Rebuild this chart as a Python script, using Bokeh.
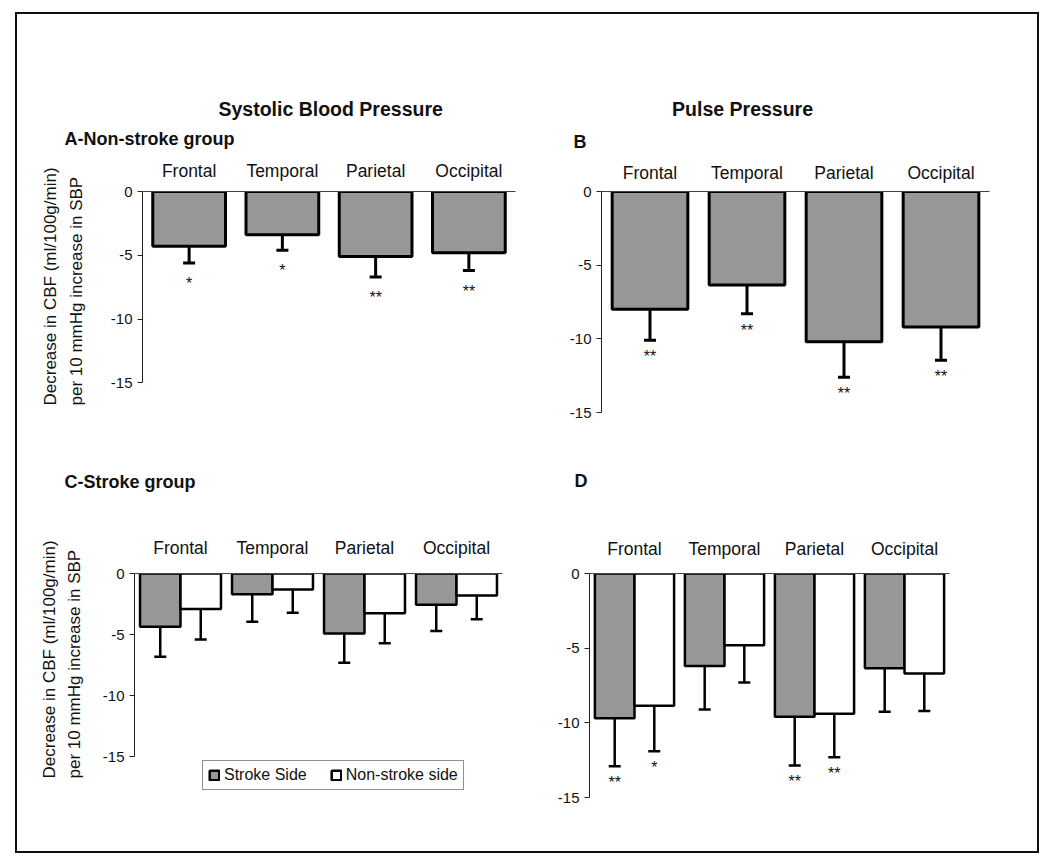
from bokeh.plotting import figure
from bokeh.models import (FactorRange, Range1d, FixedTicker, Whisker, TeeHead,
                          ColumnDataSource, Title, Legend, LegendItem)
from bokeh.transform import dodge
from bokeh.layouts import row, column
from bokeh.embed import file_html
from bokeh.resources import INLINE
from bokeh.core.properties import value

FONT = "Liberation Sans"
GRAY = "#979797"

# ---------------- data ----------------
regions = ["Frontal", "Temporal", "Parietal", "Occipital"]
y_ticks = [-15, -10, -5, 0]
y_tick_labels = ["-15", "-10", "-5", "0"]

# A: non-stroke group, systolic blood pressure
a_values = [-4.3, -3.4, -5.1, -4.8]
a_err_low = [-5.6, -4.6, -6.7, -6.2]
a_stars = ["*", "*", "**", "**"]

# B: non-stroke group, pulse pressure
b_values = [-8.0, -6.35, -10.2, -9.2]
b_err_low = [-10.1, -8.3, -12.6, -11.45]
b_stars = ["**", "**", "**", "**"]

# C: stroke group, systolic blood pressure
c_stroke = [-4.35, -1.7, -4.9, -2.55]
c_stroke_low = [-6.8, -3.95, -7.3, -4.7]
c_non = [-2.9, -1.3, -3.25, -1.8]
c_non_low = [-5.4, -3.2, -5.7, -3.75]
c_stars = ["", "", "", ""]

# D: stroke group, pulse pressure
d_stroke = [-9.7, -6.2, -9.6, -6.35]
d_stroke_low = [-12.9, -9.1, -12.85, -9.25]
d_stroke_stars = ["**", "", "**", ""]
d_non = [-8.85, -4.8, -9.4, -6.7]
d_non_low = [-11.9, -7.3, -12.3, -9.2]
d_non_stars = ["*", "", "**", ""]

legend_labels = ["Stroke Side", "Non-stroke side"]
ylabel_lines = ["Decrease in CBF (ml/100g/min)", "per 10 mmHg increase in SBP"]


def make_panel(width, height, left, right, top, bottom, x_standoff, y_min):
    p = figure(width=width, height=height,
               x_range=FactorRange(*regions, range_padding=0),
               y_range=Range1d(y_min, 0),
               x_axis_location="above",
               output_backend="svg", toolbar_location=None,
               min_border_left=left, min_border_right=right,
               min_border_top=top, min_border_bottom=bottom)
    p.outline_line_color = None
    p.background_fill_color = "white"
    p.border_fill_color = "white"
    p.xgrid.visible = False
    p.ygrid.visible = False
    xa = p.xaxis[0]
    xa.axis_line_color = "#444444"
    xa.axis_line_width = 1
    xa.major_tick_line_color = None
    xa.major_tick_out = 0
    xa.major_tick_in = 0
    xa.major_label_standoff = x_standoff
    xa.major_label_text_font = FONT
    xa.major_label_text_font_size = "17.5px"
    xa.major_label_text_color = "#111111"
    ya = p.yaxis[0]
    ya.ticker = FixedTicker(ticks=y_ticks)
    ya.bounds = (min(y_ticks), max(y_ticks))
    ya.major_label_overrides = {t: s for t, s in zip(y_ticks, y_tick_labels)}
    ya.axis_line_color = "#222222"
    ya.axis_line_width = 1
    ya.major_tick_line_color = "#222222"
    ya.major_tick_out = 5
    ya.major_tick_in = 0
    ya.minor_tick_line_color = None
    ya.major_label_standoff = 5
    ya.major_label_text_font = FONT
    ya.major_label_text_font_size = "15px"
    ya.major_label_text_color = "#111111"
    return p


def add_title(p, txt, side, size, bold, align, offset, standoff,
              vertical_align="bottom", line_height=1.0):
    p.add_layout(Title(text=txt, align=align, offset=offset, standoff=standoff,
                       vertical_align=vertical_align,
                       text_font=FONT, text_font_size=size,
                       text_font_style="bold" if bold else "normal",
                       text_line_height=line_height,
                       text_color="#111111"), side)


def add_ylabel(p, offset, standoff):
    add_title(p, "\n".join(ylabel_lines), "left", "17px", False, "left", offset,
              standoff, vertical_align="middle", line_height=1.35)


def add_stars(p, xs, lows, stars, star_off):
    keep = [i for i, s in enumerate(stars) if s]
    if not keep:
        return
    src = ColumnDataSource(dict(region=[regions[i] for i in keep],
                                low=[lows[i] for i in keep],
                                star=[stars[i] for i in keep]))
    x = "region" if xs == 0 else dodge("region", xs, range=p.x_range)
    p.text(x=x, y="low", text="star", source=src, text_font=value(FONT),
           text_font_size="16px", text_align="center", text_baseline="top",
           y_offset=star_off, text_color="#111111")


def single_bars(p, vals, lows, stars, lw, star_off):
    src = ColumnDataSource(dict(region=regions, val=vals, low=lows))
    p.add_layout(Whisker(source=src, base="region", upper="val", lower="low",
                         dimension="height", line_color="black", line_width=lw,
                         upper_head=None,
                         lower_head=TeeHead(size=12, line_width=lw, line_color="black")))
    p.vbar(x="region", top="val", bottom=0, width=0.78, source=src,
           fill_color=GRAY, line_color="black", line_width=lw)
    add_stars(p, 0, lows, stars, star_off)


def paired_bars(p, s_vals, s_lows, n_vals, n_lows, s_stars, n_stars, lw, star_off):
    src = ColumnDataSource(dict(region=regions, s=s_vals, sl=s_lows, n=n_vals, nl=n_lows))
    off = 0.22
    renderers = []
    for key, low, lows, fill, stars, sign in (("s", "sl", s_lows, GRAY, s_stars, -1),
                                              ("n", "nl", n_lows, "white", n_stars, 1)):
        xt = dodge("region", sign * off, range=p.x_range)
        p.add_layout(Whisker(source=src, base=xt, upper=key, lower=low,
                             dimension="height", line_color="black", line_width=lw,
                             upper_head=None,
                             lower_head=TeeHead(size=12, line_width=lw, line_color="black")))
        r = p.vbar(x=xt, top=key, bottom=0, width=0.44, source=src,
                   fill_color=fill, line_color="black", line_width=lw)
        renderers.append(r)
        add_stars(p, sign * off, lows, stars, star_off)
    return renderers


# ---------------- panel A ----------------
pA = make_panel(525, 409, 125, 27, 177, 11, 11, -17.33)
single_bars(pA, a_values, a_err_low, a_stars, 3, 12)
add_title(pA, "A-Non-stroke group", "above", "18px", True, "left", -78, 18)
add_title(pA, "Systolic Blood Pressure", "above", "19.5px", True, "left", 76, -5)
add_ylabel(pA, 7, 41)

# ---------------- panel B ----------------
pB = make_panel(495, 409, 59, 48, 177, 11, 9, -15)
single_bars(pB, b_values, b_err_low, b_stars, 3, 8)
add_title(pB, "B", "above", "18px", True, "left", -28, 15.6)
add_title(pB, "Pulse Pressure", "above", "19.5px", True, "left", 70.6, 2.8)

# ---------------- panel C ----------------
pC = make_panel(525, 428, 117, 40, 150, 54, 16, -18.32)
rc = paired_bars(pC, c_stroke, c_stroke_low, c_non, c_non_low, c_stars, c_stars, 2.5, 8)
add_title(pC, "C-Stroke group", "above", "18px", True, "left", -70, 84.6)
add_ylabel(pC, 19, 28)
legend = Legend(items=[LegendItem(label=legend_labels[0], renderers=[rc[0]]),
                       LegendItem(label=legend_labels[1], renderers=[rc[1]])],
                location=(68, 7), orientation="horizontal",
                border_line_color="#222222", border_line_width=1,
                background_fill_color="white", background_fill_alpha=1,
                label_text_font=FONT, label_text_font_size="16px",
                label_text_color="#111111",
                glyph_width=12, glyph_height=12, label_standoff=4,
                spacing=23, padding=5, margin=0)
pC.add_layout(legend, "center")

# ---------------- panel D ----------------
pD = make_panel(495, 428, 47, 88, 150, 54, 15, -15)
paired_bars(pD, d_stroke, d_stroke_low, d_non, d_non_low, d_stroke_stars, d_non_stars, 2.5, 8)
add_title(pD, "D", "above", "18px", True, "left", -15, 88.6)

layout = column(row(pA, pB), row(pC, pD), margin=(12, 0, 0, 15),
                styles={"border": "2px solid #111111"})

open("out.html", "w").write(file_html(layout, INLINE))
